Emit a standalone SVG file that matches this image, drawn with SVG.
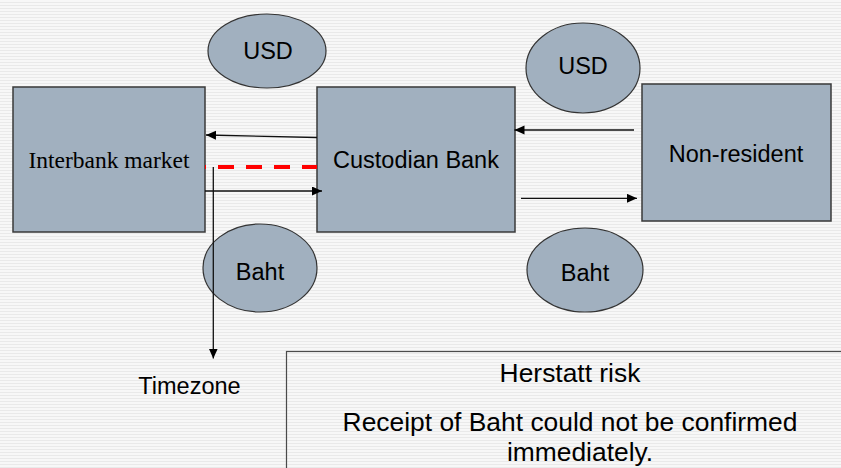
<svg xmlns="http://www.w3.org/2000/svg" width="841" height="468" viewBox="0 0 841 468">
  <defs>
    <pattern id="stripes" width="8" height="3" patternUnits="userSpaceOnUse">
      <rect width="8" height="3" fill="#F7F7F7"/>
      <rect y="2" width="8" height="1" fill="#E9E9E9"/>
    </pattern>
    <marker id="arrow" markerUnits="userSpaceOnUse" markerWidth="11" markerHeight="10" refX="10" refY="4.5" orient="auto">
      <path d="M0,0 L10,4.5 L0,9 z" fill="#000"/>
    </marker>
    <style>
      .box { fill: #A1B0BF; stroke: #3A3A3A; stroke-width: 1.5; }
      .oval { fill: #A1B0BF; stroke: #333; stroke-width: 1.2; }
      .lbl { font-family: "Liberation Sans", Arial, sans-serif; font-size: 23.5px; fill: #000; text-anchor: middle; }
      .serif { font-family: "Liberation Serif", "Times New Roman", serif; font-size: 23.5px; fill: #000; text-anchor: middle; }
      .note { font-family: "Liberation Sans", Arial, sans-serif; font-size: 26.4px; fill: #000; text-anchor: middle; }
      .conn { stroke: #111; stroke-width: 1.3; fill: none; marker-end: url(#arrow); }
    </style>
  </defs>
  <rect width="841" height="468" fill="url(#stripes)"/>

  <g id="interbank">
    <rect class="box" x="13" y="87" width="192" height="145"/>
    <text class="serif" x="109" y="167.5">Interbank market</text>
  </g>
  <g id="custodian">
    <rect class="box" x="317" y="87" width="198" height="145"/>
    <text class="lbl" x="416" y="167.5">Custodian Bank</text>
  </g>
  <g id="nonresident">
    <rect class="box" x="642" y="84" width="189" height="137"/>
    <text class="lbl" x="736" y="162">Non-resident</text>
  </g>
  <g id="usd-left">
    <ellipse class="oval" cx="267" cy="51" rx="59" ry="37"/>
    <text class="lbl" x="268" y="59">USD</text>
  </g>
  <g id="usd-right">
    <ellipse class="oval" cx="583" cy="68" rx="57" ry="45"/>
    <text class="lbl" x="583" y="74">USD</text>
  </g>
  <g id="baht-left">
    <ellipse class="oval" cx="260" cy="268" rx="57" ry="44"/>
    <text class="lbl" x="260" y="280">Baht</text>
  </g>
  <g id="baht-right">
    <ellipse class="oval" cx="585" cy="270" rx="58" ry="42"/>
    <text class="lbl" x="585" y="281">Baht</text>
  </g>
  <g id="timezone">
    <text class="lbl" x="189.5" y="394">Timezone</text>
  </g>
  <g id="herstatt">
    <rect x="286.5" y="351.5" width="600" height="150" fill="none" stroke="#4A4A4A" stroke-width="1.2"/>
    <text class="note" x="570" y="382">Herstatt risk</text>
    <text class="note" x="570" y="430.5">Receipt of Baht could not be confirmed</text>
    <text class="note" x="580" y="461">immediately.</text>
  </g>

  <g id="connectors">
    <line class="conn" x1="317" y1="137.5" x2="206" y2="135"/>
    <line class="conn" x1="205" y1="191" x2="322" y2="191"/>
    <line class="conn" x1="634" y1="130" x2="514.5" y2="130"/>
    <line class="conn" x1="521" y1="198.3" x2="637" y2="198.3"/>
    <line class="conn" x1="213.3" y1="167" x2="213.3" y2="358.5"/>
    <line x1="205" y1="167" x2="317" y2="167" stroke="#FF0000" stroke-width="4" stroke-dasharray="16 12" stroke-dashoffset="15"/>
  </g>
</svg>
